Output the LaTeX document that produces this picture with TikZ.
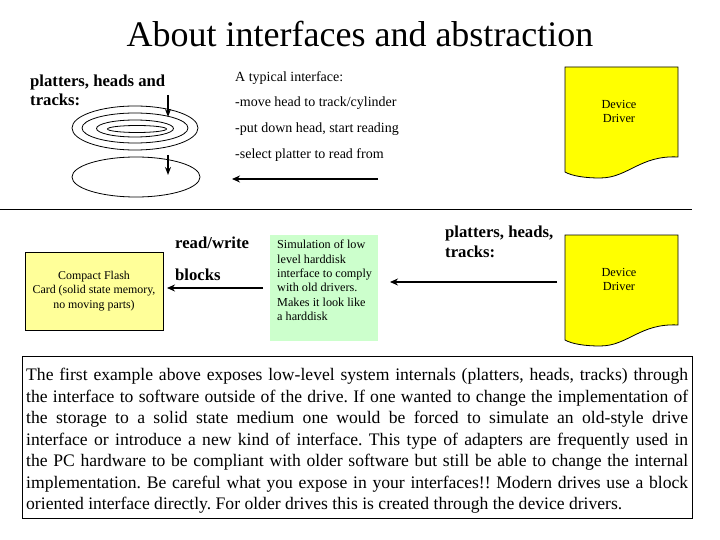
\documentclass[tikz,border=0pt]{standalone}
\usepackage{fontspec}
\setmainfont{Liberation Serif}
\usetikzlibrary{arrows.meta}
\definecolor{ddyellow}{HTML}{FFFF00}
\definecolor{cfyellow}{HTML}{FFFF99}
\definecolor{simgreen}{HTML}{CCFFCC}
\begin{document}
\begin{tikzpicture}[x=1pt,y=-1pt,
  lbl/.style={anchor=base west, inner sep=0pt, font=\fontsize{14}{16}\selectfont},
  boldlbl/.style={anchor=base west, inner sep=0pt, font=\fontsize{16.7}{19}\selectfont\bfseries},
  arr/.style={line width=2pt, -{Stealth[length=8pt,width=7pt]}},
  varr/.style={line width=1.5pt, -{Stealth[length=8pt,width=6pt]}},
  disk/.style={line width=0.8pt},
  small/.style={font=\fontsize{11.9}{14.5}\selectfont, align=center, inner sep=0pt},
  ddtext/.style={font=\fontsize{12.3}{14}\selectfont, align=center, inner sep=0pt},
  driver/.style={fill=ddyellow, draw=black, line width=0.8pt},
]
\useasboundingbox (0,0) rectangle (720,540);

% title
\node[anchor=base, inner sep=0pt, font=\fontsize{36}{40}\selectfont] (title) at (360,47) {About interfaces and abstraction};

% top left label
\node[boldlbl] (pht1) at (30,87) {platters, heads and};
\node[boldlbl] (pht2) at (30,106) {tracks:};

% platters
\draw[disk] (135,128) ellipse [x radius=63pt, y radius=22pt];
\draw[disk] (135,128) ellipse [x radius=53pt, y radius=15pt];
\draw[disk] (135,128.5) ellipse [x radius=38.5pt, y radius=8.5pt];
\draw[disk] (137,129) ellipse [x radius=29.5pt, y radius=3.5pt];
\draw[disk] (136,177) ellipse [x radius=64pt, y radius=20pt];

\coordinate (h1s) at (168,95);
\coordinate (h1e) at (168,117);
\coordinate (h2s) at (168,155);
\coordinate (h2e) at (168,175);
\draw[varr] (h1s) -- (h1e);
\draw[varr] (h2s) -- (h2e);

% typical interface
\node[lbl] (ti0) at (235,82) {A typical interface:};
\node[lbl] (ti1) at (235,107) {-move head to track/cylinder};
\node[lbl] (ti2) at (235,133) {-put down head, start reading};
\node[lbl] (ti3) at (235,159) {-select platter to read from};
\coordinate (a1s) at (378,179);
\coordinate (a1e) at (232,179);
\draw[arr] (a1s) -- (a1e);

% device driver 1
\draw[driver] (565,67) -- (678,67) -- (678,157) .. controls (640,155) and (628,178) .. (600,178) .. controls (585,178) and (572,176) .. (565,172) -- cycle;
\node[ddtext] (dd1) at (619,111) {Device\\Driver};

% separator
\coordinate (sepl) at (0,210);
\coordinate (sepr) at (692,210);
\draw[line width=1pt] (sepl) -- (sepr);

% compact flash
\node[draw=black, fill=cfyellow, line width=0.8pt, minimum width=138pt, minimum height=78pt, small] (cf) at (94,291) {Compact Flash\\Card (solid state memory,\\no moving parts)};

\node[boldlbl] (rw1) at (175,248) {read/write};
\node[boldlbl] (rw2) at (175,280) {blocks};

% simulation box
\node[fill=simgreen, minimum width=108pt, minimum height=106pt, inner sep=0pt, anchor=north west] (sim) at (270,235) {};
\node[anchor=north west, align=left, inner sep=0pt, font=\fontsize{12.2}{14.4}\selectfont] (simtxt) at (277,240) {Simulation of low\\level harddisk\\interface to comply\\with old drivers.\\Makes it look like\\a harddisk};

\coordinate (a3s) at (263,288);
\coordinate (a3e) at (167,288);
\draw[arr] (a3s) -- (a3e);

\node[boldlbl] (ph1) at (445,237) {platters, heads,};
\node[boldlbl] (ph2) at (445,257) {tracks:};

\coordinate (a2s) at (557,282);
\coordinate (a2e) at (390,282);
\draw[arr] (a2s) -- (a2e);

% device driver 2
\draw[driver] (565,235) -- (678,235) -- (678,325) .. controls (640,323) and (628,346) .. (600,346) .. controls (585,346) and (572,344) .. (565,340) -- cycle;
\node[ddtext] (dd2) at (619,279) {Device\\Driver};

% paragraph
\node[draw=black, line width=0.8pt, minimum width=670pt, minimum height=162pt, inner sep=0pt, anchor=north west] (parabox) at (22,356) {};
\node[anchor=north west, align=left, inner sep=0pt, font=\fontsize{17.6}{21.5}\selectfont\frenchspacing] (paratext) at (26,368) {%
\makebox[662pt][s]{The first example above exposes low-level system internals (platters, heads, tracks) through}\\
\makebox[662pt][s]{the interface to software outside of the drive. If one wanted to change the implementation of}\\
\makebox[662pt][s]{the storage to a solid state medium one would be forced to simulate an old-style drive}\\
\makebox[662pt][s]{interface or introduce a new kind of interface. This type of adapters are frequently used in}\\
\makebox[662pt][s]{the PC hardware to be compliant with older software but still be able to change the internal}\\
\makebox[662pt][s]{implementation. Be careful what you expose in your interfaces!! Modern drives use a block}\\
oriented interface directly. For older drives this is created through the device drivers.};
\end{tikzpicture}
\end{document}
